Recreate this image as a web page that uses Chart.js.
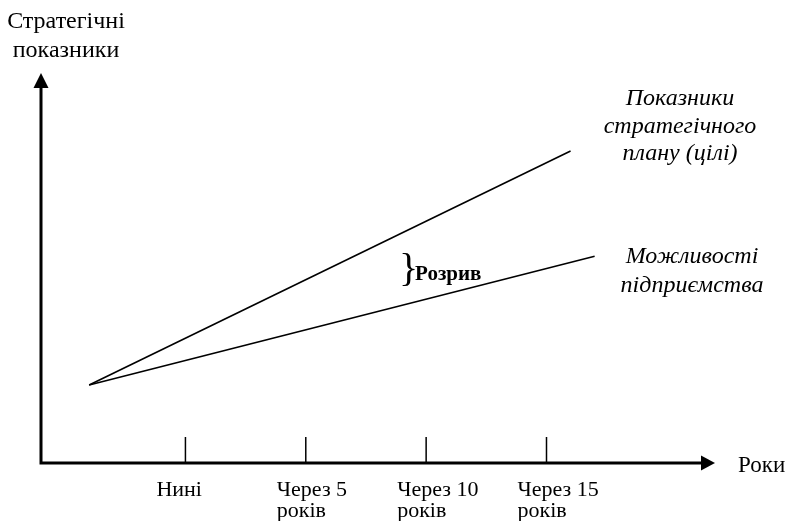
<!DOCTYPE html>
<html>
<head>
<meta charset="utf-8">
<script src="https://cdn.jsdelivr.net/npm/chart.js@4.4.0/dist/chart.umd.min.js"></script>
<style>
  body { margin: 0; background: #fff; }
  #wrap { width: 789px; height: 521px; position: relative; }
</style>
</head>
<body>
<div id="wrap"><canvas id="gapChart"></canvas></div>
<script>
// years from now, tick positions on the x axis
const tickYears = [0, 5, 10, 15];
const tickLabels = [["Нині"], ["Через 5", "років"], ["Через 10", "років"], ["Через 15", "років"]];

// strategic plan targets
const planX = [-4, 16];
const planY = [20, 80];

// enterprise capabilities
const capX = [-4, 17];
const capY = [20, 53];

const xAxisTitle = "Роки";
const yAxisTitle = ["Стратегічні", "показники"];
const planLabel = ["Показники", "стратегічного", "плану (цілі)"];
const capLabel = ["Можливості", "підприємства"];
const gapLabel = "Розрив";

const toPoints = (xs, ys) => xs.map((x, i) => ({ x: x, y: ys[i] }));

const serif = "'Liberation Serif', 'Times New Roman', serif";

const axesPlugin = {
    id: "axesPlugin",
    afterDraw(chart) {
        const ctx = chart.ctx;
        const xs = chart.scales.x, ys = chart.scales.y;
        const x0 = xs.getPixelForValue(xs.min);
        const y0 = ys.getPixelForValue(0);
        const xEnd = xs.getPixelForValue(xs.max);
        const yTop = ys.getPixelForValue(ys.max);

        ctx.save();
        ctx.strokeStyle = "#000";
        ctx.fillStyle = "#000";

        // axes
        ctx.lineWidth = 3;
        ctx.beginPath();
        ctx.moveTo(x0, yTop + 12);
        ctx.lineTo(x0, y0);
        ctx.lineTo(xEnd - 12, y0);
        ctx.stroke();

        // arrow heads
        ctx.beginPath();
        ctx.moveTo(x0, yTop);
        ctx.lineTo(x0 - 7.5, yTop + 15);
        ctx.lineTo(x0 + 7.5, yTop + 15);
        ctx.closePath();
        ctx.fill();
        ctx.beginPath();
        ctx.moveTo(xEnd, y0);
        ctx.lineTo(xEnd - 14, y0 - 7.5);
        ctx.lineTo(xEnd - 14, y0 + 7.5);
        ctx.closePath();
        ctx.fill();

        // tick marks + labels
        ctx.lineWidth = 1.5;
        ctx.font = "22px " + serif;
        ctx.textAlign = "left";
        ctx.textBaseline = "alphabetic";
        tickYears.forEach((t, i) => {
            const px = xs.getPixelForValue(t);
            ctx.beginPath();
            ctx.moveTo(px, y0 - 26);
            ctx.lineTo(px, y0);
            ctx.stroke();
            tickLabels[i].forEach((line, j) => {
                ctx.fillText(line, px - 29, y0 + 33 + j * 21);
            });
        });

        // axis titles
        ctx.font = "23px " + serif;
        ctx.fillText(xAxisTitle, xEnd + 23, y0 + 9);
        ctx.textAlign = "center";
        ctx.font = "24px " + serif;
        yAxisTitle.forEach((line, j) => ctx.fillText(line, x0 + 25, 28 + j * 29));

        // series labels
        ctx.font = "italic 24px " + serif;
        planLabel.forEach((line, j) => ctx.fillText(line, 680, 105 + j * 27.5));
        capLabel.forEach((line, j) => ctx.fillText(line, 692, 263 + j * 29));

        // gap annotation
        const bx = xs.getPixelForValue(9);
        const by = ys.getPixelForValue(47);
        ctx.textAlign = "left";
        ctx.font = "40px " + serif;
        ctx.fillText("}", bx - 3, by + 1);
        ctx.font = "bold 21px " + serif;
        ctx.fillText(gapLabel, bx + 13, by);

        ctx.restore();
    }
};

new Chart(document.getElementById("gapChart"), {
    type: "scatter",
    data: {
        datasets: [
            { label: "plan", data: toPoints(planX, planY) },
            { label: "capability", data: toPoints(capX, capY) }
        ]
    },
    options: {
        responsive: true,
        maintainAspectRatio: false,
        animation: false,
        showLine: true,
        layout: { padding: { left: 41, right: 74, top: 73, bottom: 58 } },
        elements: {
            line: { borderColor: "#000", borderWidth: 1.6, tension: 0 },
            point: { radius: 0, hoverRadius: 0 }
        },
        plugins: { legend: { display: false }, tooltip: { enabled: false } },
        scales: {
            x: { type: "linear", min: -6, max: 22, display: false },
            y: { type: "linear", min: 0, max: 100, display: false }
        }
    },
    plugins: [axesPlugin]
});
</script>
</body>
</html>
